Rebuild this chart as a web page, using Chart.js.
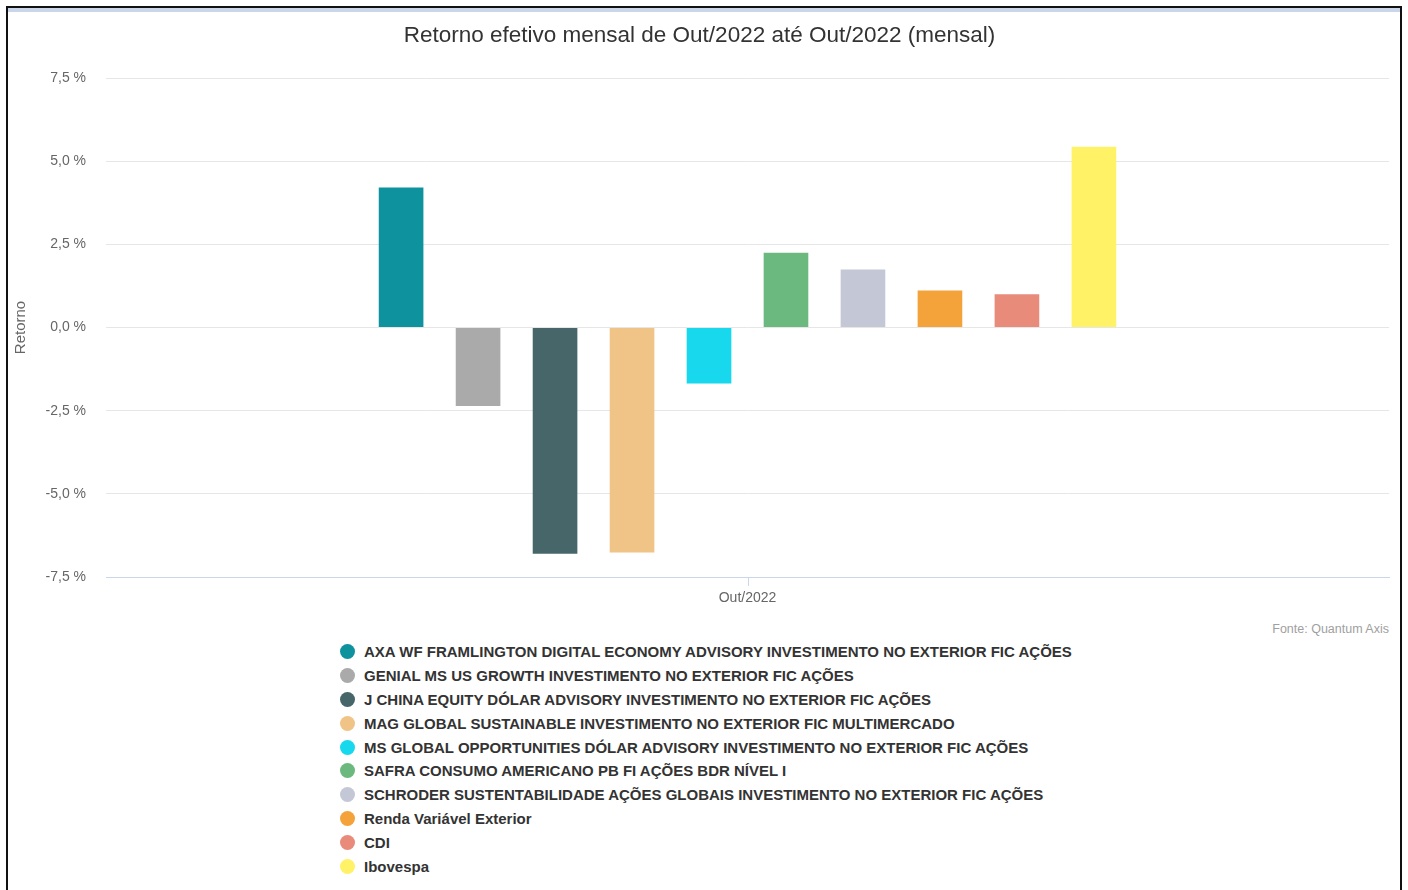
<!DOCTYPE html>
<html>
<head>
<meta charset="utf-8">
<script src="https://cdn.jsdelivr.net/npm/chart.js@4"></script>
<style>
  body { margin: 0; background: #fff; font-family: "Liberation Sans", Arial, sans-serif; }
  #frame { position: absolute; left: 6px; top: 6px; width: 1392px; height: 900px; border: 2px solid #111; border-bottom: none; }
  #band { position: absolute; left: 8px; top: 8px; width: 1392px; height: 4px; background: #c9d6ea; }
  #wrap { position: absolute; left: 0; top: 0; width: 1408px; height: 620px; }
  #fonte { position: absolute; right: 19px; top: 622px; font-size: 12.5px; color: #a0a0a0; }
  #legend { position: absolute; left: 340px; top: 640px; }
  .item { height: 23.8px; display: flex; align-items: center; font-size: 15px; font-weight: bold; color: #333; white-space: nowrap; }
  .dot { width: 15px; height: 15px; border-radius: 50%; margin-right: 9px; }
</style>
</head>
<body>
<div id="frame"></div>
<div id="band"></div>
<div id="wrap"><canvas id="chart" width="1408" height="620"></canvas></div>
<div id="fonte">Fonte: Quantum Axis</div>
<div id="legend"></div>
<script>
// dados
const categorias = ['Out/2022'];
const fundos = [
    'AXA WF FRAMLINGTON DIGITAL ECONOMY ADVISORY INVESTIMENTO NO EXTERIOR FIC AÇÕES',
    'GENIAL MS US GROWTH INVESTIMENTO NO EXTERIOR FIC AÇÕES',
    'J CHINA EQUITY DÓLAR ADVISORY INVESTIMENTO NO EXTERIOR FIC AÇÕES',
    'MAG GLOBAL SUSTAINABLE INVESTIMENTO NO EXTERIOR FIC MULTIMERCADO',
    'MS GLOBAL OPPORTUNITIES DÓLAR ADVISORY INVESTIMENTO NO EXTERIOR FIC AÇÕES',
    'SAFRA CONSUMO AMERICANO PB FI AÇÕES BDR NÍVEL I',
    'SCHRODER SUSTENTABILIDADE AÇÕES GLOBAIS INVESTIMENTO NO EXTERIOR FIC AÇÕES',
    'Renda Variável Exterior',
    'CDI',
    'Ibovespa'
];
const retornos = [4.21, -2.36, -6.80, -6.76, -1.68, 2.25, 1.74, 1.11, 1.00, 5.43];
const cores = ['#0e929e', '#aaaaaa', '#46666a', '#f0c486', '#17d8ec', '#6cb97f', '#c4c7d6', '#f4a23a', '#e88b7a', '#fff266'];
const yTicks = [-7.5, -5.0, -2.5, 0, 2.5, 5.0, 7.5];

const fmt = v => v.toFixed(1).replace('.', ',') + ' %';
const fam = '"Liberation Sans", Arial, sans-serif';

// marca do eixo x
const tickMark = {
    id: 'tickMark',
    afterDraw(chart) {
        const ctx = chart.ctx;
        const x = chart.scales.x.getPixelForValue(0);
        const b = chart.chartArea.bottom;
        ctx.save();
        ctx.strokeStyle = '#ccd6eb';
        ctx.lineWidth = 1;
        ctx.beginPath();
        ctx.moveTo(Math.round(x) + 0.5, b);
        ctx.lineTo(Math.round(x) + 0.5, b + 9);
        ctx.stroke();
        ctx.restore();
    }
};

const chart = new Chart(document.getElementById('chart'), {
    type: 'bar',
    data: {
        labels: categorias,
        datasets: fundos.map((nome, i) => ({
            label: nome,
            data: [retornos[i]],
            backgroundColor: cores[i],
            borderWidth: 0,
            barPercentage: 0.58,
            categoryPercentage: 0.6
        }))
    },
    options: {
        responsive: false,
        animation: false,
        layout: { padding: { left: 10, right: 19, top: 0, bottom: 0 } },
        plugins: {
            legend: { display: false },
            tooltip: { enabled: false },
            title: {
                display: true,
                text: 'Retorno efetivo mensal de Out/2022 até Out/2022 (mensal)',
                color: '#333333',
                font: { size: 22.5, family: fam, weight: 'normal' },
                padding: { top: 22, bottom: 29 }
            }
        },
        scales: {
            x: {
                grid: { display: false },
                border: { display: true, color: '#ccd6eb' },
                ticks: { color: '#666', font: { size: 14, family: fam }, padding: 5 },
                afterFit: s => { s.height = 43; }
            },
            y: {
                min: -7.5,
                max: 7.5,
                afterBuildTicks: s => { s.ticks = yTicks.map(v => ({ value: v })); },
                grid: {
                    color: ctx => ctx.tick && ctx.tick.value === -7.5 ? '#ccd6eb' : '#e6e6e6',
                    drawTicks: false
                },
                border: { display: false },
                ticks: { color: '#666', font: { size: 14, family: fam }, padding: 20, callback: v => fmt(v) },
                title: { display: true, text: 'Retorno', color: '#666', font: { size: 15, family: fam }, padding: { top: 2, bottom: 4 } },
                afterFit: s => { s.width = 96; }
            }
        }
    },
    plugins: [tickMark]
});

// legenda em HTML a partir dos datasets
const leg = document.getElementById('legend');
chart.data.datasets.forEach(ds => {
    let row = document.createElement('div');
    row.className = 'item';
    row.innerHTML = `<span class="dot" style="background:${ds.backgroundColor}"></span><span>${ds.label}</span>`;
    leg.appendChild(row);
});
</script>
</body>
</html>
